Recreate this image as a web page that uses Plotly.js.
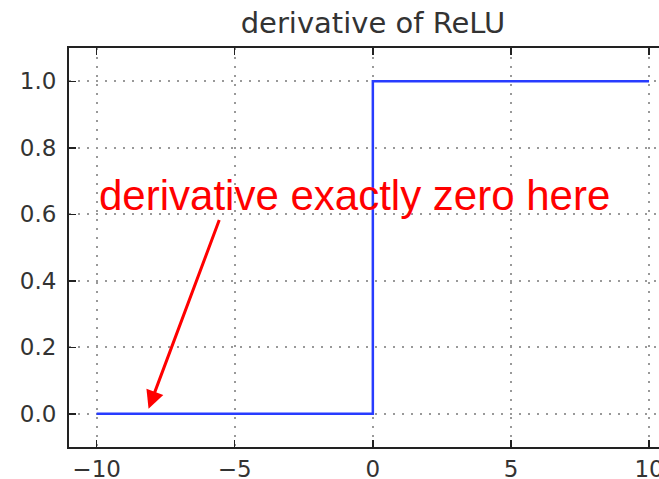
<!DOCTYPE html>
<html>
<head>
<meta charset="utf-8">
<script src="https://cdn.plot.ly/plotly-3.0.1.min.js"></script>
<style>html,body{margin:0;padding:0;background:#fff;}#chart{width:659px;height:479px;}</style>
</head>
<body>
<div id="chart"></div>
<script>
// Data: derivative of ReLU
const xValues = [-10, 0, 0, 10];
const yValues = [0, 0, 1, 1];
const xTickVals = [-10, -5, 0, 5, 10];
const yTickVals = [0.0, 0.2, 0.4, 0.6, 0.8, 1.0];
const yTickText = ['0.0', '0.2', '0.4', '0.6', '0.8', '1.0'];
const titleText = 'derivative of ReLU';
const noteText = 'derivative exactly zero here';
const noteX = -10, noteY = 0.655;
const arrowHead = [-8.12, 0.015];
const arrowTail = [-5.54, 0.587];

const axisCommon = {
  showline: true, linecolor: '#222', linewidth: 2,
  ticks: 'inside', ticklen: 7, tickwidth: 1.5, tickcolor: '#222',
  showgrid: true, gridcolor: '#999', griddash: '2px,7px', gridwidth: 2,
  zeroline: false, automargin: false, ticklabeloverflow: 'allow',
  tickfont: {family: 'DejaVu Sans', size: 23, color: '#333'}
};

const trace = {
  x: xValues, y: yValues, mode: 'lines', type: 'scatter',
  line: {color: 'rgb(40,60,255)', width: 2.5, shape: 'linear'},
  hoverinfo: 'skip'
};

const layout = {
  width: 659, height: 479,
  margin: {l: 69, r: 0, t: 48, b: 32},
  paper_bgcolor: '#fff', plot_bgcolor: '#fff',
  showlegend: false,
  title: {text: titleText, font: {family: 'DejaVu Sans', size: 29, color: '#333'},
          x: (373 - 69) / 590, xanchor: 'center', xref: 'paper', y: 1 - 23/479, yanchor: 'middle', yref: 'container'},
  xaxis: Object.assign({}, axisCommon, {range: [-11, 10.36], tickvals: xTickVals, mirror: 'ticks', ticklabelstandoff: 0}),
  yaxis: Object.assign({}, axisCommon, {range: [-0.1, 1.1], tickvals: yTickVals, ticktext: yTickText, mirror: false, ticklabelstandoff: 6}),
  annotations: [
    {x: noteX, y: noteY, xref: 'x', yref: 'y', text: noteText, showarrow: false,
     xanchor: 'left', yanchor: 'middle',
     font: {family: 'Liberation Sans', size: 42, color: '#ff0000'}},
    {x: arrowHead[0], y: arrowHead[1], ax: arrowTail[0], ay: arrowTail[1],
     xref: 'x', yref: 'y', axref: 'x', ayref: 'y', text: '', showarrow: true,
     arrowhead: 2, arrowsize: 1.2, arrowwidth: 3, arrowcolor: '#ff0000'}
  ]
};

Plotly.newPlot('chart', [trace], layout, {staticPlot: true, displayModeBar: false});
</script>
</body>
</html>
